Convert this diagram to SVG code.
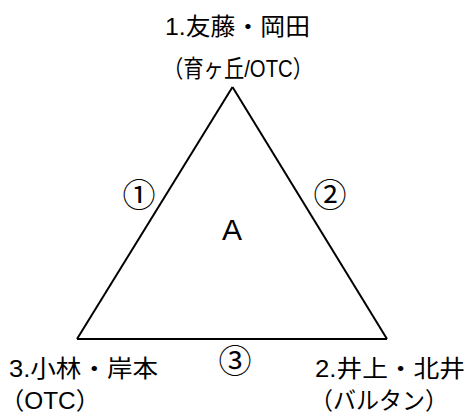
<svg xmlns="http://www.w3.org/2000/svg" width="468" height="417" viewBox="0 0 468 417">
<style>
text{font-family:"Liberation Sans","Noto Sans CJK JP",sans-serif;font-size:24px;fill:#000}
.c{text-anchor:middle}
.n{font-size:33px}
.edge{fill:none;stroke:#000;stroke-width:2}
</style>
<rect width="468" height="417" fill="#fff"/>
<g id="connectors">
<path class="edge" d="M232.5,87 L77,339"/>
<path class="edge" d="M232.5,87 L387,339"/>
<path class="edge" d="M77,339 L387,339"/>
<text class="c n" x="139" y="207">①</text>
<text class="c n" x="330" y="207">②</text>
<text class="c n" x="235" y="373">③</text>
</g>
<g id="node1">
<text x="165" y="35" textLength="145" lengthAdjust="spacingAndGlyphs">1.友藤・岡田</text>
<text x="163" y="77" textLength="150" lengthAdjust="spacingAndGlyphs">（育ヶ丘/OTC）</text>
</g>
<g id="node2">
<text x="315" y="377" textLength="150" lengthAdjust="spacingAndGlyphs">2.井上・北井</text>
<text x="310" y="409" textLength="138" lengthAdjust="spacingAndGlyphs">（バルタン）</text>
</g>
<g id="node3">
<text x="9" y="377" textLength="149" lengthAdjust="spacingAndGlyphs">3.小林・岸本</text>
<text x="0" y="409" textLength="100" lengthAdjust="spacingAndGlyphs">（OTC）</text>
</g>
<g id="center">
<text class="c" x="232" y="240" style="font-size:30px">A</text>
</g>
</svg>
